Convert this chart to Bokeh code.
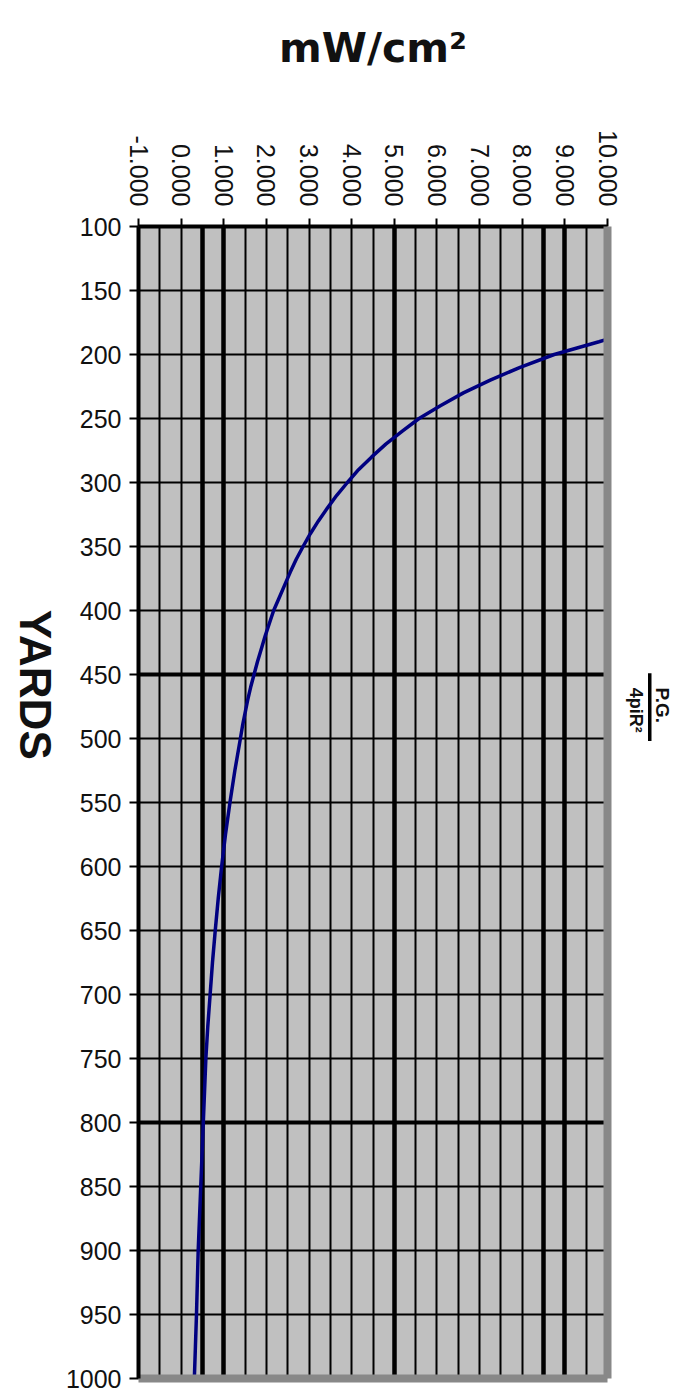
import math
from bokeh.plotting import figure
from bokeh.layouts import row
from bokeh.models import (Range1d, LinearAxis, FixedTicker, Grid, Label,
                          NumeralTickFormatter, BoxAnnotation)
from bokeh.embed import file_html
from bokeh.resources import INLINE

# ---- data ----
yards = [180, 190, 200, 210, 220, 230, 240, 250, 260, 270, 280, 290, 300, 310, 320,
         330, 340, 350, 360, 370, 380, 390, 400, 410, 420, 430, 440, 450, 460, 470,
         480, 490, 500, 525, 550, 575, 600, 625, 650, 675, 700, 725, 750, 775, 800,
         825, 850, 875, 900, 925, 950, 975, 1000]
density = [10.8, 9.8, 8.75, 7.95, 7.25, 6.62, 6.08, 5.58, 5.18, 4.8, 4.47, 4.16, 3.9,
           3.65, 3.43, 3.22, 3.03, 2.86, 2.7, 2.56, 2.43, 2.3, 2.17, 2.07, 1.97, 1.88,
           1.79, 1.71, 1.63, 1.56, 1.5, 1.44, 1.39, 1.26, 1.145, 1.04, 0.95, 0.87,
           0.8, 0.735, 0.68, 0.625, 0.58, 0.55, 0.52, 0.49, 0.46, 0.43, 0.4, 0.38,
           0.36, 0.335, 0.31]

x_ticks = [-1, 0, 1, 2, 3, 4, 5, 6, 7, 8, 9, 10]
y_ticks = [100, 150, 200, 250, 300, 350, 400, 450, 500, 550, 600, 650, 700, 750,
           800, 850, 900, 950, 1000]
x_grid = [-0.5, 0, 0.5, 1, 1.5, 2, 2.5, 3, 3.5, 4, 4.5, 5, 5.5, 6, 6.5, 7, 7.5,
          8, 8.5, 9, 9.5]
x_heavy = [0.5, 1, 5, 8.5, 9]
y_heavy = [450, 800, 1000]

FONT = "Liberation Sans"
H = 1392
TOP = 226
BOT = H - 1378


def side_fig(w):
    f = figure(width=w, height=H, x_range=Range1d(0, w), y_range=Range1d(1000, 100),
               x_axis_type=None, y_axis_type=None, output_backend="svg",
               toolbar_location=None, min_border_left=0, min_border_right=0,
               min_border_top=TOP, min_border_bottom=BOT)
    f.outline_line_color = None
    f.background_fill_color = "white"
    f.border_fill_color = "white"
    return f


# ---- left strip: YARDS ----
left = side_fig(62)
left.add_layout(Label(x=35, y=458, text="YARDS", angle=-math.pi / 2, text_font=FONT,
                      text_font_style="bold", text_font_size="44px", text_align="center",
                      text_baseline="middle", text_color="#111111"))

# ---- main chart ----
p = figure(width=561, height=H, x_range=Range1d(-1, 10), y_range=Range1d(1000, 100),
           x_axis_location="above", output_backend="svg", toolbar_location=None,
           min_border_left=74, min_border_right=16, min_border_top=TOP,
           min_border_bottom=BOT)
p.background_fill_color = "#C0C0C0"
p.border_fill_color = "white"
p.outline_line_color = None

xa = p.xaxis[0]
xa.ticker = FixedTicker(ticks=x_ticks)
xa.formatter = NumeralTickFormatter(format="0.000")
xa.major_label_orientation = -math.pi / 2
xa.major_label_text_font = FONT
xa.major_label_text_font_size = "25px"
xa.major_label_text_color = "#111111"
xa.major_label_standoff = 12
xa.major_tick_out = 8
xa.major_tick_in = 0
xa.major_tick_line_width = 2
xa.minor_tick_line_color = None
xa.axis_line_width = 4
xa.axis_label = "mW/cm²"
xa.axis_label_text_font = "DejaVu Sans"
xa.axis_label_text_font_style = "bold"
xa.axis_label_text_font_size = "41px"
xa.axis_label_text_color = "#111111"
xa.axis_label_standoff = 55

ya = p.yaxis[0]
ya.ticker = FixedTicker(ticks=y_ticks)
ya.formatter = NumeralTickFormatter(format="0")
ya.major_label_text_font = FONT
ya.major_label_text_font_size = "25px"
ya.major_label_text_color = "#111111"
ya.major_label_standoff = 8
ya.major_tick_out = 9
ya.major_tick_in = 0
ya.major_tick_line_width = 2
ya.minor_tick_line_color = None
ya.axis_line_width = 4

# grey shadow edges right / bottom
for side in ("right", "below"):
    ax = LinearAxis(ticker=FixedTicker(ticks=[]), axis_line_color="#888888",
                    axis_line_width=8, major_tick_line_color=None,
                    minor_tick_line_color=None)
    p.add_layout(ax, side)

p.xgrid.ticker = FixedTicker(ticks=x_grid)
p.ygrid.ticker = FixedTicker(ticks=y_ticks)
for g in (p.xgrid[0], p.ygrid[0]):
    g.grid_line_color = "black"
    g.grid_line_width = 2
    g.grid_line_alpha = 1.0
p.add_layout(Grid(dimension=0, ticker=FixedTicker(ticks=x_heavy),
                  grid_line_color="black", grid_line_width=4.5), "center")
p.add_layout(Grid(dimension=1, ticker=FixedTicker(ticks=y_heavy),
                  grid_line_color="black", grid_line_width=4), "center")

p.line(density, yards, line_color="#000080", line_width=3.5)

# ---- right strip: P.G. / 4piR² ----
right = side_fig(53)
right.add_layout(Label(x=39, y=474, text="P.G.", angle=-math.pi / 2, text_font=FONT,
                       text_font_style="bold", text_font_size="19px", text_align="center",
                       text_baseline="middle", text_color="#111111"))
right.add_layout(Label(x=12, y=478, text="4piR²", angle=-math.pi / 2, text_font=FONT,
                       text_font_style="bold", text_font_size="18px", text_align="center",
                       text_baseline="middle", text_color="#111111"))
right.add_layout(BoxAnnotation(left=24.5, right=28, top=449, bottom=502,
                               fill_color="black", fill_alpha=1.0, line_color=None))

layout = row(left, p, right)
open("out.html", "w").write(file_html(layout, INLINE))
